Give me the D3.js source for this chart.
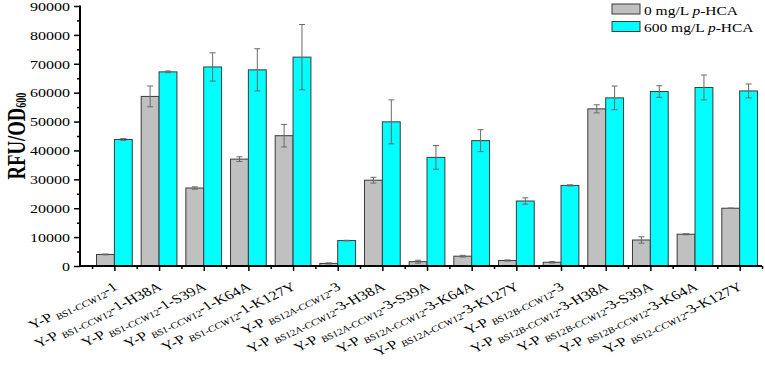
<!DOCTYPE html>
<html>
<head>
<meta charset="utf-8">
<script src="https://cdn.jsdelivr.net/npm/d3@7"></script>
<style>
  body { margin: 0; background: #fff; }
  svg { display: block; }
  text { font-family: "Liberation Serif", "Times New Roman", serif; fill: #000; }
</style>
</head>
<body>
<svg id="chart"></svg>
<script>
// strain names: prefix / italic subscript / suffix
const promoters = ['BS1-CCW12', 'BS1-CCW12', 'BS1-CCW12', 'BS1-CCW12', 'BS1-CCW12',
    'BS12A-CCW12', 'BS12A-CCW12', 'BS12A-CCW12', 'BS12A-CCW12', 'BS12A-CCW12',
    'BS12B-CCW12', 'BS12B-CCW12', 'BS12B-CCW12', 'BS12B-CCW12', 'BS12-CCW12'];
const suffixes = ['-1', '-1-H38A', '-1-S39A', '-1-K64A', '-1-K127Y',
    '-3', '-3-H38A', '-3-S39A', '-3-K64A', '-3-K127Y',
    '-3', '-3-H38A', '-3-S39A', '-3-K64A', '-3-K127Y'];

const ctrl = [4000, 58700, 27000, 37000, 45100, 900, 29700, 1500, 3400, 1900, 1300, 54400, 9000, 11000, 20000];
const ctrlErr = [150, 3600, 400, 800, 3900, 200, 1000, 500, 300, 200, 250, 1400, 1100, 200, 0];
const treat = [43800, 67200, 68900, 67900, 72300, 8800, 49900, 37600, 43400, 22500, 27900, 58200, 60400, 61800, 60600];
const treatErr = [300, 300, 4900, 7300, 11300, 100, 7600, 4100, 3800, 1100, 200, 4100, 2000, 4300, 2400];

const seriesNames = ['0 mg/L ', '600 mg/L '];
const seriesColors = ['#c0c0c0', '#00ffff'];
const yTicks = d3.range(0, 90001, 10000);

const W = 765, H = 365;
const squish = 0.76;

const svg = d3.select('#chart').attr('width', W).attr('height', H);

const x = d3.scaleLinear().domain([0.23, 15.5]).range([80, 762]);
const y = d3.scaleLinear().domain([0, 90000]).range([266, 6]);
const barW = x(1) - x(0.6);

const groups = ctrl.map((d, i) => ({ i: i + 1, c: d, ce: ctrlErr[i], t: treat[i], te: treatErr[i] }));

// bars
svg.append('g').selectAll('rect.c')
    .data(groups)
    .join('rect')
    .attr('x', d => x(d.i) - barW)
    .attr('y', d => y(d.c))
    .attr('width', barW)
    .attr('height', d => y(0) - y(d.c))
    .attr('fill', seriesColors[0])
    .attr('stroke', '#3a3a3a')
    .attr('stroke-width', 1);

svg.append('g').selectAll('rect.t')
    .data(groups)
    .join('rect')
    .attr('x', d => x(d.i))
    .attr('y', d => y(d.t))
    .attr('width', barW)
    .attr('height', d => y(0) - y(d.t))
    .attr('fill', seriesColors[1])
    .attr('stroke', '#3a3a3a')
    .attr('stroke-width', 1);

// error bars
function errBars(cx, v, e) {
    const g = svg.append('g').attr('stroke', '#6a6a6a').attr('stroke-width', 1);
    groups.forEach(d => {
        const xc = cx(d), top = y(v(d) + e(d)), bot = y(v(d) - e(d));
        g.append('line').attr('x1', xc).attr('x2', xc).attr('y1', top).attr('y2', bot);
        g.append('line').attr('x1', xc - 3).attr('x2', xc + 3).attr('y1', top).attr('y2', top);
        g.append('line').attr('x1', xc - 3).attr('x2', xc + 3).attr('y1', bot).attr('y2', bot);
    });
}
errBars(d => x(d.i) - barW / 2, d => d.c, d => d.ce);
errBars(d => x(d.i) + barW / 2, d => d.t, d => d.te);

// y axis
const yAxis = svg.append('g')
    .attr('transform', 'translate(80,0)')
    .call(d3.axisLeft(y).tickValues(yTicks).tickSize(6).tickPadding(4).tickFormat(d3.format('d')));
yAxis.select('.domain').remove();
yAxis.selectAll('.tick line').attr('stroke', '#000').attr('stroke-width', 1.5);
yAxis.selectAll('.tick text')
    .attr('font-size', 16)
    .attr('transform', `scale(1,${squish})`)
    .attr('dy', '0.35em');
svg.append('g')
    .attr('transform', 'translate(80,0)')
    .call(d3.axisLeft(y).tickValues(d3.range(5000, 90000, 10000)).tickSize(3).tickFormat(''))
    .call(g => g.select('.domain').remove())
    .selectAll('.tick line').attr('stroke', '#000').attr('stroke-width', 1.5);

// x axis ticks
svg.append('g')
    .attr('transform', 'translate(0,266)')
    .call(d3.axisBottom(x).tickValues(d3.range(1, 16)).tickSize(5).tickFormat(''))
    .call(g => g.select('.domain').remove())
    .selectAll('.tick line').attr('stroke', '#000').attr('stroke-width', 1.5);
svg.append('g')
    .attr('transform', 'translate(0,266)')
    .call(d3.axisBottom(x).tickValues(d3.range(0.5, 15.6, 1)).tickSize(3).tickFormat(''))
    .call(g => g.select('.domain').remove())
    .selectAll('.tick line').attr('stroke', '#000').attr('stroke-width', 1.5);

// axis lines
svg.append('line').attr('x1', 80).attr('x2', 80).attr('y1', y(90000) - 0.5).attr('y2', y(0) + 1)
    .attr('stroke', '#000').attr('stroke-width', 2);
svg.append('line').attr('x1', 79).attr('x2', 762).attr('y1', y(0)).attr('y2', y(0))
    .attr('stroke', '#000').attr('stroke-width', 2);

// x labels
const lab = svg.append('g').selectAll('text')
    .data(groups)
    .join('text')
    .attr('transform', d => `translate(${x(d.i) + 4},289) scale(1,${squish}) rotate(-32)`)
    .attr('text-anchor', 'end')
    .attr('font-size', 16.5);
lab.append('tspan').text('Y-P ');
lab.append('tspan').text(d => promoters[d.i - 1])
    .attr('font-style', 'italic').attr('font-size', 11.5).attr('dy', 3);
lab.append('tspan').text(d => suffixes[d.i - 1]).attr('dy', -3);

// y title
const yt = svg.append('text')
    .attr('transform', `translate(25,136) scale(1,0.72) rotate(-90)`)
    .attr('text-anchor', 'middle')
    .attr('font-size', 26)
    .attr('font-weight', 'bold');
yt.append('tspan').text('RFU/OD');
yt.append('tspan').text('600').attr('font-size', 14).attr('dy', 1);

// legend
const leg = svg.append('g').selectAll('g')
    .data(seriesNames)
    .join('g')
    .attr('transform', (d, i) => `translate(612,${4 + i * 17.5})`);
leg.append('rect')
    .attr('width', 28).attr('height', 10)
    .attr('fill', (d, i) => seriesColors[i])
    .attr('stroke', '#3a3a3a').attr('stroke-width', 1);
const lt = leg.append('text')
    .attr('transform', `translate(32,10.5) scale(1,${squish})`)
    .attr('font-size', 15.5);
lt.append('tspan').text(d => d);
lt.append('tspan').text('p').attr('font-style', 'italic');
lt.append('tspan').text('-HCA');
</script>
</body>
</html>
